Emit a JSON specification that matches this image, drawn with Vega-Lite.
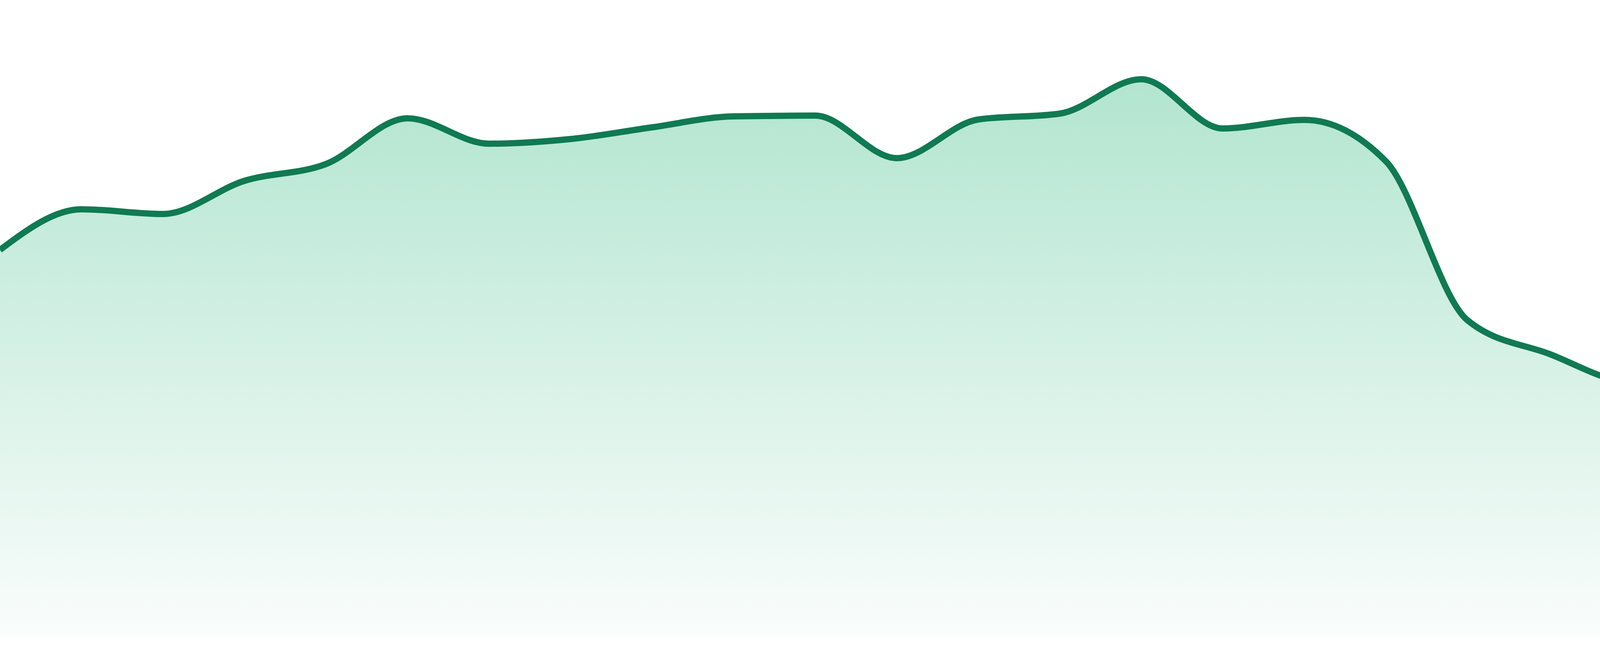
{
  "$schema": "https://vega.github.io/schema/vega-lite/v6.json",
  "width": 4800,
  "height": 1632,
  "padding": 0,
  "autosize": {"type": "none"},
  "background": "white",
  "config": {"view": {"stroke": null}},
  "data": {
    "values": [
      {"day": 0, "value": 992},
      {"day": 1, "value": 1096},
      {"day": 2, "value": 1084},
      {"day": 3, "value": 1169},
      {"day": 4, "value": 1212},
      {"day": 5, "value": 1329},
      {"day": 6, "value": 1264},
      {"day": 7, "value": 1276},
      {"day": 8, "value": 1306},
      {"day": 9, "value": 1334},
      {"day": 10, "value": 1336},
      {"day": 11, "value": 1227},
      {"day": 12, "value": 1326},
      {"day": 13, "value": 1341},
      {"day": 14, "value": 1429},
      {"day": 15, "value": 1303},
      {"day": 16, "value": 1325},
      {"day": 17, "value": 1219},
      {"day": 18, "value": 812},
      {"day": 19, "value": 726},
      {"day": 20, "value": 655},
      {"day": 21, "value": 830},
      {"day": 22, "value": 695},
      {"day": 23, "value": 659}
    ]
  },
  "encoding": {
    "x": {"field": "day", "type": "quantitative", "scale": {"domain": [0, 23], "nice": false, "zero": false}, "axis": null},
    "y": {"field": "value", "type": "quantitative", "scale": {"domain": [0, 1632], "nice": false}, "axis": null}
  },
  "layer": [
    {
      "mark": {
        "type": "area",
        "interpolate": "monotone",
        "color": {
          "gradient": "linear",
          "x1": 0, "y1": 0, "x2": 0, "y2": 1,
          "stops": [
            {"offset": 0, "color": "#b2e5d0"},
            {"offset": 1, "color": "#fafdfc"}
          ]
        }
      }
    },
    {
      "mark": {"type": "line", "interpolate": "monotone", "color": "#107a52", "strokeWidth": 16}
    }
  ]
}
